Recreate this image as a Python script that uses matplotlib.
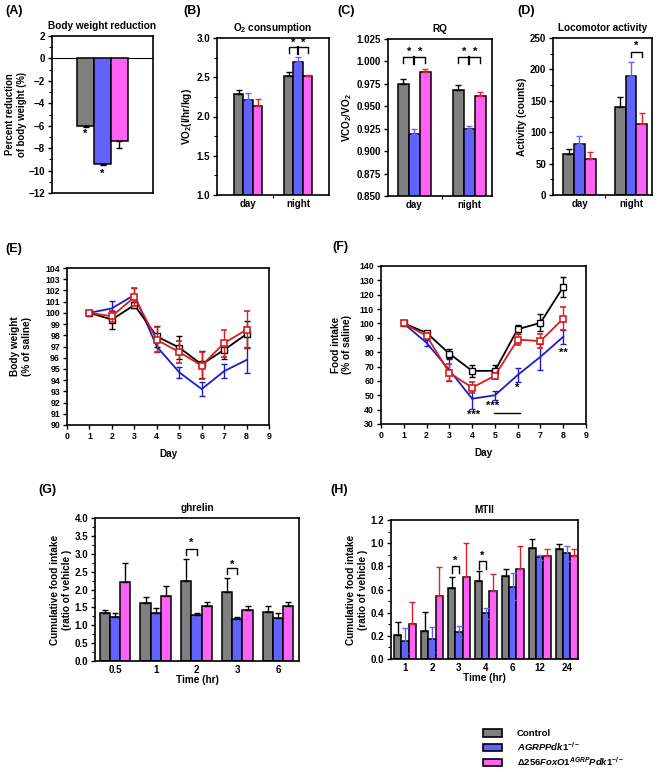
import matplotlib
matplotlib.use('Agg')
import matplotlib.pyplot as plt
from matplotlib.patches import Patch
from matplotlib.ticker import MultipleLocator, FixedLocator
import numpy as np

plt.rcParams['font.family'] = ['Liberation Sans', 'DejaVu Sans']
plt.rcParams['font.weight'] = 'bold'
plt.rcParams['axes.labelweight'] = 'bold'
plt.rcParams['axes.titleweight'] = 'bold'
plt.rcParams['axes.linewidth'] = 1.2
plt.rcParams['mathtext.fontset'] = 'custom'
plt.rcParams['mathtext.rm'] = 'Liberation Sans:bold'
plt.rcParams['mathtext.it'] = 'Liberation Sans:italic:bold'
plt.rcParams['mathtext.bf'] = 'Liberation Sans:bold'

GRAY = '#808080'
BLUE = '#6262ff'
PINK = '#ff63f5'
RED = '#e0202a'

group_names = ['Control', r'$AGRPPdk1^{-/-}$', r'$\Delta 256FoxO1^{AGRP}Pdk1^{-/-}$']

# (A) body weight reduction
bw_red = [-6.0, -9.42, -7.37]
bw_red_err = [0.12, 0.08, 0.65]

# (B) O2 consumption
periods = ['day', 'night']
vo2_ctrl = [2.286, 2.52]
vo2_ctrl_err = [0.055, 0.045]
vo2_agrp = [2.21, 2.69]
vo2_agrp_err = [0.09, 0.065]
vo2_dfox = [2.13, 2.51]
vo2_dfox_err = [0.09, 0.02]

# (C) RQ
rq_ctrl = [0.975, 0.9687]
rq_ctrl_err = [0.0057, 0.0053]
rq_agrp = [0.919, 0.925]
rq_agrp_err = [0.006, 0.003]
rq_dfox = [0.9885, 0.961]
rq_dfox_err = [0.0035, 0.005]

# (D) locomotor activity
act_ctrl = [66, 140.6]
act_ctrl_err = [8, 16]
act_agrp = [82, 189.5]
act_agrp_err = [12, 22.5]
act_dfox = [58, 112.6]
act_dfox_err = [11, 18]

# (E) body weight
days = [1, 2, 3, 4, 5, 6, 7, 8]
bw_ctrl = [100, 99.4, 100.7, 97.9, 96.9, 95.4, 96.7, 98.1]
bw_ctrl_err = [0.1, 0.8, 0.3, 0.9, 1.0, 1.2, 0.8, 1.2]
bw_agrp = [100, 100.4, 101.6, 97.0, 94.7, 93.2, 94.8, 95.8]
bw_agrp_err = [0.1, 0.7, 0.6, 0.5, 0.5, 0.6, 0.6, 1.2]
bw_dfox = [100, 99.7, 101.4, 97.6, 96.5, 95.3, 97.3, 98.5]
bw_dfox_err = [0.1, 0.5, 0.8, 1.1, 1.0, 1.2, 1.2, 1.65]

# (F) food intake
fi_ctrl = [100, 93.5, 79, 67, 67, 96, 100.4, 125.4]
fi_ctrl_err = [0.5, 1.5, 3, 4, 4, 3, 6, 7]
fi_agrp = [100, 86.5, 67.6, 47.6, 50, 64.1, 76.8, 90.7]
fi_agrp_err = [0.5, 2, 8, 7, 3, 5, 9, 5]
fi_dfox = [100, 91.4, 65.7, 55.3, 63.6, 88.8, 87.7, 103.4]
fi_dfox_err = [0.5, 2, 6, 4, 2, 4, 5, 8]

# (G) ghrelin
gh_times = ['0.5', '1', '2', '3', '6']
gh_ctrl = [1.355, 1.635, 2.24, 1.92, 1.38]
gh_ctrl_err = [0.07, 0.15, 0.6, 0.4, 0.16]
gh_agrp = [1.24, 1.355, 1.29, 1.18, 1.21]
gh_agrp_err = [0.1, 0.12, 0.06, 0.06, 0.14]
gh_dfox = [2.2, 1.82, 1.54, 1.43, 1.54]
gh_dfox_err = [0.53, 0.28, 0.1, 0.11, 0.12]

# (H) MTII
mt_times = ['1', '2', '3', '4', '6', '12', '24']
mt_ctrl = [0.207, 0.245, 0.61, 0.673, 0.717, 0.955, 0.947]
mt_ctrl_err = [0.115, 0.16, 0.1, 0.09, 0.06, 0.08, 0.045]
mt_agrp = [0.158, 0.17, 0.236, 0.394, 0.624, 0.878, 0.912]
mt_agrp_err = [0.11, 0.11, 0.05, 0.05, 0.115, 0.02, 0.066]
mt_dfox = [0.302, 0.544, 0.705, 0.587, 0.774, 0.892, 0.892]
mt_dfox_err = [0.19, 0.25, 0.3, 0.15, 0.2, 0.06, 0.06]

W, H = 662, 772
fig = plt.figure(figsize=(W / 100, H / 100), dpi=100)


def add_ax(l, r, t, b):
    return fig.add_axes([l / W, 1 - b / H, (r - l) / W, (b - t) / H])


TICK_FS = 7
LAB_FS = 7.2


def style(ax, fs=TICK_FS):
    ax.tick_params(axis='both', labelsize=fs, width=1, length=3, direction='out', pad=2)
    ax.tick_params(which='minor', width=0.8, length=2)
    for lab in ax.get_xticklabels() + ax.get_yticklabels():
        lab.set_fontweight('bold')


def bars3(ax, x, vals, errs, width, ecols, down=False, sym=None):
    cols = [GRAY, BLUE, PINK]
    offs = [-width, 0, width]
    for i in range(3):
        xs = np.asarray(x) + offs[i]
        ax.bar(xs, vals[i], width, color=cols[i], edgecolor='black', linewidth=1.1, zorder=2)
        e = np.asarray(errs[i])
        z = np.zeros_like(e)
        if sym is not None and sym[i]:
            yerr = [e, e]
        elif down:
            yerr = [e, z]
        else:
            yerr = [z, e]
        ax.errorbar(xs, vals[i], yerr=yerr, fmt='none', ecolor=ecols[i], elinewidth=1.0,
                    capsize=2.5, capthick=1.0, zorder=3)


def bracket(ax, x0, xm, x1, ytop, yend, ystar, ymid=None, fs=8):
    ax.plot([x0, x0, x1, x1], [yend, ytop, ytop, yend], color='black', lw=1.0, zorder=4)
    if xm is not None:
        ax.plot([xm, xm], [ytop, ymid], color='black', lw=1.6, zorder=4)
        ax.text((x0 + xm) / 2, ystar, '*', ha='center', va='center', fontsize=fs, fontweight='bold')
        ax.text((xm + x1) / 2, ystar, '*', ha='center', va='center', fontsize=fs, fontweight='bold')
    else:
        ax.text((x0 + x1) / 2, ystar, '*', ha='center', va='center', fontsize=fs, fontweight='bold')


def panel_label(x, y, s):
    fig.text(x / W, 1 - y / H, s, fontsize=9, fontweight='bold', ha='left', va='center')


# ---------- (A)
ax = add_ax(52, 153, 36, 193)
xa = np.arange(3) - 1.0
for i, c in enumerate([GRAY, BLUE, PINK]):
    ax.bar(xa[i], bw_red[i], 1.0, color=c, edgecolor='black', linewidth=1.1, zorder=2)
    ax.errorbar(xa[i], bw_red[i], yerr=[[bw_red_err[i]], [0]], fmt='none', ecolor='black',
                elinewidth=1.0, capsize=2.5, capthick=1.0, zorder=3)
ax.axhline(0, color='black', lw=0.8, zorder=1)
ax.set_xlim(-3, 3)
ax.set_ylim(-12, 2)
ax.set_yticks(np.arange(-12, 3, 2))
ax.yaxis.set_minor_locator(MultipleLocator(1))
ax.set_xticks([])
ax.text(xa[0], -6.75, '*', ha='center', va='center', fontsize=8, fontweight='bold')
ax.text(xa[1], -10.25, '*', ha='center', va='center', fontsize=8, fontweight='bold')
ax.set_title('Body weight reduction', fontsize=LAB_FS, pad=5)
ax.set_ylabel('Percent reduction\nof body weight (%)', fontsize=6.9, labelpad=1)
style(ax)
panel_label(5, 11, '(A)')

# ---------- (B)
ax = add_ax(217, 329, 38, 195)
xg = np.arange(2)
bw = 0.19
bars3(ax, xg, [vo2_ctrl, vo2_agrp, vo2_dfox], [vo2_ctrl_err, vo2_agrp_err, vo2_dfox_err], bw,
      ['black', BLUE, RED])
ax.set_xlim(-0.62, 1.62)
ax.set_ylim(1.0, 3.0)
ax.set_yticks([1.0, 1.5, 2.0, 2.5, 3.0])
ax.yaxis.set_minor_locator(MultipleLocator(0.25))
ax.set_xticks(xg)
ax.set_xticklabels(periods)
ax.xaxis.set_minor_locator(FixedLocator([0.5]))
bracket(ax, 1 - bw, 1, 1 + bw, 2.885, 2.81, 2.935, ymid=2.79)
ax.set_title(r'O$_2$ consumption', fontsize=LAB_FS, pad=5)
ax.set_ylabel(r'VO$_2$(l/hr/kg)', fontsize=LAB_FS, labelpad=2)
style(ax)
ax.tick_params(axis='x', which='major', length=0, pad=3)
panel_label(183, 11, '(B)')

# ---------- (C)
ax = add_ax(388, 492, 39, 196)
bw = 0.2
bars3(ax, xg, [rq_ctrl, rq_agrp, rq_dfox], [rq_ctrl_err, rq_agrp_err, rq_dfox_err], bw,
      ['black', BLUE, RED])
ax.set_xlim(-0.48, 1.41)
ax.set_ylim(0.85, 1.025)
ax.set_yticks(np.arange(0.85, 1.026, 0.025))
ax.set_yticklabels(['%.3f' % v for v in np.arange(0.85, 1.026, 0.025)])
ax.set_xticks(xg)
ax.set_xticklabels(periods)
ax.xaxis.set_minor_locator(FixedLocator([0.5]))
for g in xg:
    bracket(ax, g - bw, g, g + bw, 1.0045, 0.998, 1.0105, ymid=0.997)
ax.set_title('RQ', fontsize=LAB_FS, pad=5)
ax.set_ylabel(r'VCO$_2$/VO$_2$', fontsize=LAB_FS, labelpad=2)
style(ax)
ax.tick_params(axis='x', which='major', length=0, pad=3)
panel_label(337, 11, '(C)')

# ---------- (D)
ax = add_ax(553, 652, 38, 195)
bw = 0.21
bars3(ax, xg, [act_ctrl, act_agrp, act_dfox], [act_ctrl_err, act_agrp_err, act_dfox_err], bw,
      ['black', BLUE, RED])
ax.set_xlim(-0.515, 1.41)
ax.set_ylim(0, 250)
ax.set_yticks(np.arange(0, 251, 50))
ax.yaxis.set_minor_locator(MultipleLocator(25))
ax.set_xticks(xg)
ax.set_xticklabels(periods)
ax.xaxis.set_minor_locator(FixedLocator([0.5]))
bracket(ax, 1, None, 1 + bw, 228, 219, 237)
ax.set_title('Locomotor activity', fontsize=LAB_FS, pad=5)
ax.set_ylabel('Activity (counts)', fontsize=LAB_FS, labelpad=2)
style(ax)
ax.tick_params(axis='x', which='major', length=0, pad=3)
panel_label(517, 11, '(D)')

# ---------- (E)
ax = add_ax(67, 269, 268, 425)
ax.errorbar(days, bw_agrp, yerr=bw_agrp_err, color='#1c1cc8', lw=1.3, capsize=2, capthick=1, elinewidth=1, zorder=2)
ax.errorbar(days, bw_ctrl, yerr=bw_ctrl_err, color='black', lw=1.3, marker='s', ms=5, mfc='white',
            mec='black', mew=1, capsize=2, capthick=1, elinewidth=1, zorder=3)
ax.errorbar(days, bw_dfox, yerr=bw_dfox_err, color='#d81e1e', lw=1.3, marker='s', ms=5, mfc='white',
            mec='#d81e1e', mew=1.2, capsize=2, capthick=1, elinewidth=1, zorder=4)
ax.set_xlim(0, 9)
ax.set_ylim(90, 104)
ax.set_xticks(range(0, 10))
ax.set_yticks(range(90, 105))
ax.set_xlabel('Day', fontsize=LAB_FS, labelpad=6)
ax.set_ylabel('Body weight\n(% of saline)', fontsize=LAB_FS, labelpad=10)
style(ax, 6.3)
panel_label(5, 249, '(E)')

# ---------- (F)
ax = add_ax(381, 586, 266, 424)
ax.errorbar(days, fi_agrp, yerr=fi_agrp_err, color='#1c1cc8', lw=1.3, capsize=2, capthick=1, elinewidth=1, zorder=2)
ax.errorbar(days, fi_ctrl, yerr=fi_ctrl_err, color='black', lw=1.3, marker='s', ms=5, mfc='white',
            mec='black', mew=1, capsize=2, capthick=1, elinewidth=1, zorder=3)
ax.errorbar(days, fi_dfox, yerr=fi_dfox_err, color='#d81e1e', lw=1.3, marker='s', ms=5, mfc='white',
            mec='#d81e1e', mew=1.2, capsize=2, capthick=1, elinewidth=1, zorder=4)
ax.set_xlim(0, 9)
ax.set_ylim(30, 140)
ax.set_xticks(range(0, 10))
ax.set_yticks(range(30, 141, 10))
ax.text(4.06, 36.5, '***', ha='center', va='center', fontsize=8, fontweight='bold')
ax.text(4.9, 42.5, '***', ha='center', va='center', fontsize=8, fontweight='bold')
ax.plot([4.95, 6.12], [38, 38], color='black', lw=1.0)
ax.text(6.0, 55.5, '*', ha='center', va='center', fontsize=8, fontweight='bold')
ax.text(8.0, 79.5, '**', ha='center', va='center', fontsize=8, fontweight='bold')
ax.set_xlabel('Day', fontsize=LAB_FS, labelpad=6)
ax.set_ylabel('Food intake\n(% of saline)', fontsize=LAB_FS, labelpad=5)
style(ax, 6.3)
panel_label(332, 247, '(F)')

# ---------- (G)
ax = add_ax(95, 299, 518, 661)
xg5 = np.arange(len(gh_times))
bw = 0.25
bars3(ax, xg5, [gh_ctrl, gh_agrp, gh_dfox], [gh_ctrl_err, gh_agrp_err, gh_dfox_err], bw,
      ['black', 'black', 'black'])
ax.set_xlim(-0.49, 4.51)
ax.set_ylim(0, 4.0)
ax.set_yticks(np.arange(0, 4.01, 0.5))
ax.yaxis.set_minor_locator(MultipleLocator(0.25))
ax.set_xticks(xg5)
ax.set_xticklabels(gh_times)
bracket(ax, 2 - bw, None, 2, 3.14, 2.97, 3.3)
bracket(ax, 3 - bw, None, 3, 2.6, 2.42, 2.7)
ax.set_title('ghrelin', fontsize=LAB_FS, pad=5)
ax.set_xlabel('Time (hr)', fontsize=LAB_FS, labelpad=0)
ax.set_ylabel('Cumulative food intake\n(ratio of vehicle )', fontsize=LAB_FS, labelpad=2)
style(ax)
ax.tick_params(axis='x', which='major', length=0, pad=3)
panel_label(38, 490, '(G)')

# ---------- (H)
ax = add_ax(391, 578, 520, 659)
xg7 = np.arange(len(mt_times))
bw = 0.27
bars3(ax, xg7, [mt_ctrl, mt_agrp, mt_dfox], [mt_ctrl_err, mt_agrp_err, mt_dfox_err], bw,
      ['black', BLUE, RED], sym=[False, True, False])
ax.set_xlim(-0.52, 6.42)
ax.set_ylim(0, 1.2)
ax.set_yticks(np.arange(0, 1.21, 0.2))
ax.set_yticklabels(['%.1f' % v for v in np.arange(0, 1.21, 0.2)])
ax.yaxis.set_minor_locator(MultipleLocator(0.1))
ax.set_xticks(xg7)
ax.set_xticklabels(mt_times)
bracket(ax, 2 - bw, None, 2, 0.803, 0.745, 0.85)
bracket(ax, 3 - bw, None, 3, 0.846, 0.78, 0.89)
ax.set_title('MTII', fontsize=LAB_FS, pad=5)
ax.set_xlabel('Time (hr)', fontsize=LAB_FS, labelpad=0)
ax.set_ylabel('Cumulative food intake\n(ratio of vehicle )', fontsize=LAB_FS, labelpad=2)
style(ax)
ax.tick_params(axis='x', which='major', length=0, pad=3)
panel_label(330, 490, '(H)')

# ---------- legend
handles = [Patch(facecolor=c, edgecolor='black', linewidth=1.2) for c in [GRAY, BLUE, PINK]]
fig.legend(handles, group_names, loc='upper left', bbox_to_anchor=(478 / W, 1 - 724 / H),
           frameon=False, fontsize=6.8, handlelength=2.0, handleheight=0.9,
           handletextpad=1.6, labelspacing=0.25, borderpad=0)

fig.savefig('out.png', dpi=100)
